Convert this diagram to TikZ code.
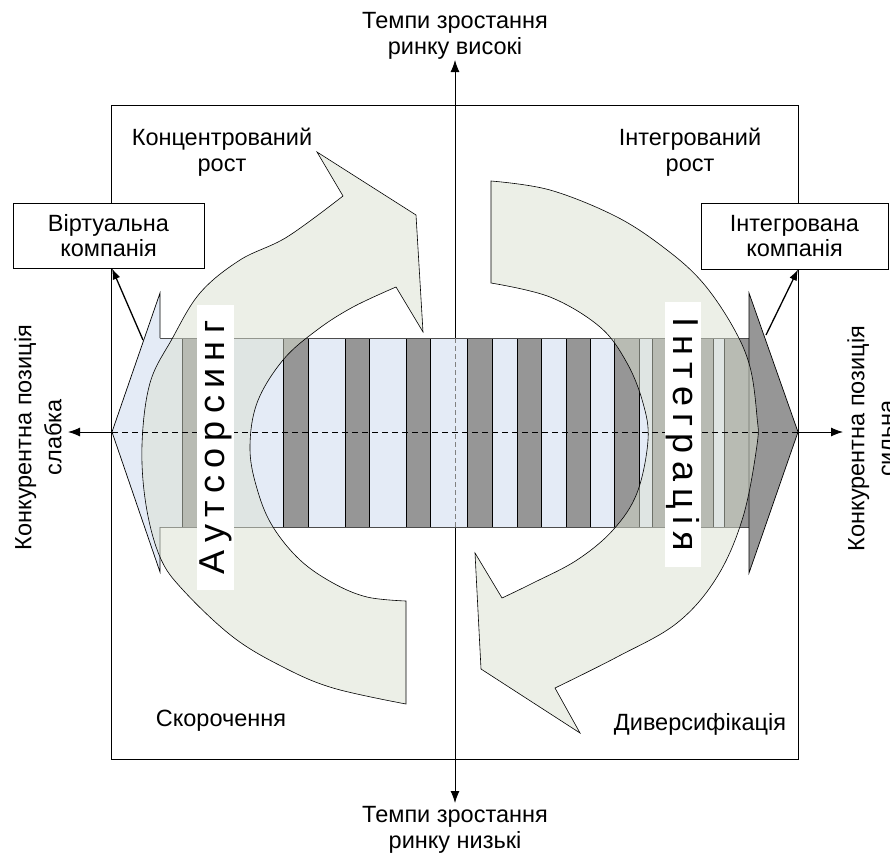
\documentclass[tikz,border=0pt]{standalone}
\usepackage{fontspec}
\setmainfont{Liberation Sans}
\usetikzlibrary{arrows.meta}
\definecolor{bandblue}{RGB}{228,235,246}
\definecolor{stripegray}{RGB}{150,150,150}
\definecolor{arrowgreen}{RGB}{219,225,209}
\newcommand\lsp{\kern7.3pt}
\begin{document}
\begin{tikzpicture}[x=1pt,y=-1pt,
  lbl/.style={font=\fontsize{23.5}{26}\selectfont, align=center, inner sep=0pt},
  sidelbl/.style={font=\fontsize{23.5}{30}\selectfont, align=center, inner sep=0pt},
  boxlbl/.style={draw, line width=0.8pt, fill=white, font=\fontsize{23.5}{25}\selectfont, align=center, inner sep=0pt},
  vtext/.style={fill=white, inner sep=0pt, font=\fontsize{36}{40}\selectfont},
  garrow/.style={fill=arrowgreen, fill opacity=0.5, draw=black, line width=0.6pt},
  stripe/.style={fill=stripegray, draw=black, line width=0.7pt},
  axis/.style={line width=0.9pt, -{Latex[length=12pt,width=9pt]}},
  boxarrow/.style={line width=1.3pt, -{Latex[length=11pt,width=8pt]}}]
\useasboundingbox (0,0) rectangle (890,854);
\fill[white] (0,0) rectangle (890,854);
% frame
\draw[line width=0.9pt] (111,105) rectangle (798,759);
% axes
\coordinate (vmid) at (455,432);
\coordinate (vtop) at (455,60);
\coordinate (vbot) at (455,803);
\coordinate (hleft) at (68,432);
\coordinate (hright) at (843,432);
\draw[axis] (vmid) -- (vtop);
\draw[axis] (vmid) -- (vbot);
\draw[axis] (vmid) -- (hleft);
\draw[axis] (vmid) -- (hright);
% band
\fill[bandblue] (160,338) rectangle (749,527);
\foreach \a/\b in {182/197, 283/308, 345/369, 406/430, 467/492, 517/541, 566/590, 614/639, 652/713, 724/749}
  \filldraw[stripe] (\a,338) rectangle (\b,527);
\draw[line width=0.7pt, draw=black!70] (160,338) -- (749,338) (160,527) -- (749,527);
% chevrons
\fill[bandblue] (160,338) -- (160,293) -- (112,432) -- (160,572) -- (160,527) -- cycle;
\draw[line width=0.7pt] (160,338) -- (160,293) -- (112,432) -- (160,572) -- (160,527);
\filldraw[fill=stripegray, line width=0.7pt] (749,338) -- (749,293) -- (798,432) -- (749,573) -- (749,527) -- cycle;
\draw[gray, line width=0.7pt, dash pattern=on 5pt off 3pt] (455,338) -- (455,527);
% left curved arrow
\path[garrow] plot[smooth, tension=0.6] coordinates {(406,704) (333,688) (283,667) (233,637) (183,590) (160,557) (146,505) (142,445) (150,383) (172,339) (200,293) (240,260) (287,237) (343,196)}
  -- (317,152) -- (416,215) -- (423,332) -- (396,287)
  -- plot[smooth, tension=0.6] coordinates {(396,287) (353,307) (317,330) (283,360) (257,403) (250,450) (258,492) (273,527) (300,560) (333,583) (367,597) (406,601)}
  -- cycle;
% right curved arrow
\path[garrow] plot[smooth, tension=0.6] coordinates {(491,181) (550,190) (617,217) (667,250) (703,283) (733,327) (750,367) (757,417) (757,445) (743,517) (717,577) (677,623) (617,657) (555,688)}
  -- (580,733) -- (481,669) -- (475,553) -- (502,598)
  -- plot[smooth, tension=0.6] coordinates {(502,598) (533,583) (577,560) (613,530) (637,493) (648,440) (643,403) (627,363) (600,327) (550,297) (491,283)}
  -- cycle;
% dashed horizontal
\draw[line width=0.8pt, dash pattern=on 6pt off 4pt] (112,432) -- (798,432);
% vertical text boxes
\node[vtext, rotate=90, minimum width=285pt, minimum height=37pt] (auts) at (215.5,447.5) {А\lsp у\lsp т\lsp с\lsp о\lsp р\lsp с\lsp и\lsp н\lsp г};
\node[vtext, rotate=-90, minimum width=265pt, minimum height=36pt] (integ) at (683,434.5) {І\lsp н\lsp т\lsp е\lsp г\lsp р\lsp а\lsp ц\lsp і\lsp я};
% company boxes
\node[boxlbl, minimum width=191pt, minimum height=65pt] (virt) at (108.5,235.5) {Віртуальна\\компанія};
\node[boxlbl, minimum width=187pt, minimum height=66pt] (intc) at (794.5,236) {Інтегрована\\компанія};
\coordinate (vfrom) at (143,340);
\coordinate (ifrom) at (766,335);
\draw[boxarrow] (vfrom) -- ([xshift=3.5pt]virt.south);
\draw[boxarrow] (ifrom) -- ([xshift=3.5pt]intc.south);
% labels
\node[lbl] (top) at (455,36) {Темпи зростання\\ринку високі};
\node[lbl] (bot) at (455,830) {Темпи зростання\\ринку низькі};
\node[sidelbl, rotate=90] (weak) at (38,437.5) {Конкурентна позиція\\слабка};
\node[sidelbl, rotate=90] (strong) at (871,438.5) {Конкурентна позиція\\сильна};
\node[lbl] (conc) at (222,152.5) {Концентрований\\рост};
\node[lbl] (intr) at (690,152.5) {Інтегрований\\рост};
\node[lbl] (skor) at (221,720.6) {Скорочення};
\node[lbl, fill=white, inner xsep=12pt, inner ysep=12pt] (div) at (700,724) {Диверсифікація};
\end{tikzpicture}
\end{document}
